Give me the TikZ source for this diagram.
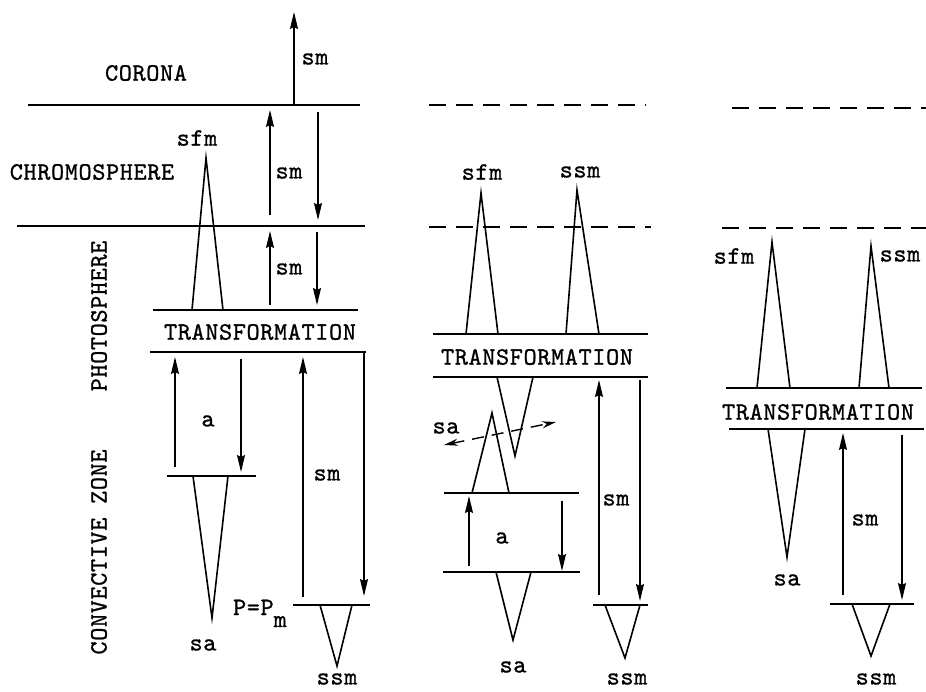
\documentclass[tikz,border=0pt]{standalone}
\usepackage{fontspec}
\newfontfamily\tw[LetterSpace=2.5,FakeBold=1]{lmmono10-regular.otf}
\usetikzlibrary{arrows.meta}
\begin{document}
\begin{tikzpicture}[x=1pt,y=-1pt,
  lay/.style={line width=1.9pt},
  dlay/.style={line width=1.9pt, dash pattern=on 17pt off 10pt},
  spk/.style={line width=1.6pt, line join=miter, miter limit=20},
  arr/.style={line width=1.5pt, -{Stealth[length=17pt,width=8pt,inset=2pt]}},
  lbl/.style={font=\fontsize{25}{28}\tw, inner sep=0pt},
]
\useasboundingbox (0,0) rectangle (926,691);
% ---------------- left column ----------------
\draw[lay] (28,105) -- (360,105);
\draw[lay] (17,226) -- (365,226);
\draw[lay] (153,310) -- (358,310);
\draw[lay] (150,352) -- (366,352);
\draw[lay] (167,476) -- (256,476);
\draw[lay] (293,605) -- (370,605);
\draw[spk] (192,310) -- (206,158) -- (223,310);
\draw[spk] (193,476) -- (212,618) -- (228,476);
\draw[spk] (320,605) -- (337,666) -- (352,605);
\draw[arr] (294,104) -- (294,12);
\draw[arr] (270,215) -- (270,110);
\draw[arr] (318,112) -- (318,220);
\draw[arr] (270,305) -- (270,231);
\draw[arr] (317,232) -- (317,305);
\draw[arr] (175,467) -- (175,357);
\draw[arr] (241,359) -- (241,472);
\draw[arr] (303,597) -- (303,357);
\draw[arr] (364,353) -- (364,596);
\node[lbl] (corona) at (146,73) {CORONA};
\node[lbl] (chromo) at (92,172) {CHROMOSPHERE};
\node[lbl, rotate=90] (photo) at (99,316) {PHOTOSPHERE};
\node[lbl, rotate=90] (conv) at (99,552) {CONVECTIVE ZONE};
\node[lbl] (smA) at (315,59) {sm};
\node[lbl] (sfmA) at (197,138) {sfm};
\node[lbl] (smB) at (289,173) {sm};
\node[lbl] (smC) at (289,269) {sm};
\node[lbl] (trA) at (260,332) {TRANSFORMATION};
\node[lbl] (aA) at (208,421) {a};
\node[lbl] (smD) at (327,475) {sm};
\node[lbl] (saA) at (203,645) {sa};
\node[lbl, anchor=base east] (pm) at (287,615) {P=P\raisebox{-12pt}{m}};
\node[lbl] (ssmA) at (337,679) {ssm};
% ---------------- middle column ----------------
\draw[dlay] (429,105) -- (646,105);
\draw[dlay] (429,227) -- (651,227);
\draw[lay] (433,334) -- (648,334);
\draw[lay] (433,377) -- (648,377);
\draw[lay] (444,493) -- (579,493);
\draw[lay] (443,572) -- (580,572);
\draw[lay] (593,605) -- (648,605);
\draw[spk] (466,334) -- (481,193) -- (498,334);
\draw[spk] (566,334) -- (577,190) -- (599,334);
\draw[spk] (497,377) -- (515,456) -- (533,377);
\draw[spk] (472,493) -- (492,413) -- (509,493);
\draw[spk] (496,572) -- (513,640) -- (531,572);
\draw[spk] (605,605) -- (625,658) -- (640,605);
\draw[arr] (469,566) -- (469,496);
\draw[arr] (562,501) -- (562,571);
\draw[arr] (599,595) -- (599,380);
\draw[arr] (640,380) -- (640,601);
\draw[line width=1.4pt, dash pattern=on 12pt off 8pt,
  {Stealth[length=14pt,width=7pt]}-{Stealth[length=14pt,width=7pt]}]
  (444,445) -- (556,422);
\node[lbl] (sfmB) at (482,172) {sfm};
\node[lbl] (ssmB) at (580,172) {ssm};
\node[lbl] (trB) at (537,357) {TRANSFORMATION};
\node[lbl] (saB) at (446,428) {sa};
\node[lbl] (aB) at (502,538) {a};
\node[lbl] (smE) at (616,500) {sm};
\node[lbl] (saC) at (513,667) {sa};
\node[lbl] (ssmC) at (627,679) {ssm};
% ---------------- right column ----------------
\draw[dlay] (732,108) -- (926,108);
\draw[dlay] (722,228) -- (926,228);
\draw[lay] (726,388) -- (922,388);
\draw[lay] (729,429) -- (924,429);
\draw[lay] (830,604) -- (914,604);
\draw[spk] (757,388) -- (772,242) -- (790,388);
\draw[spk] (859,388) -- (871,246) -- (889,388);
\draw[spk] (768,429) -- (787,557) -- (805,429);
\draw[spk] (852,604) -- (871,656) -- (890,604);
\draw[arr] (843,595) -- (843,433);
\draw[arr] (902,435) -- (902,600);
\node[lbl] (sfmC) at (734,256) {sfm};
\node[lbl] (ssmD) at (900,256) {ssm};
\node[lbl] (trC) at (818,412) {TRANSFORMATION};
\node[lbl] (saD) at (787,580) {sa};
\node[lbl] (smF) at (865,520) {sm};
\node[lbl] (ssmE) at (876,679) {ssm};
\end{tikzpicture}
\end{document}
